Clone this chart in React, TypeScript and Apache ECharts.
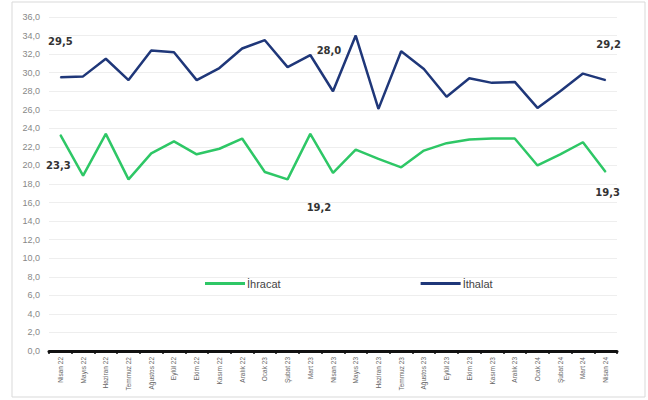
import React, { useEffect, useRef } from "react";
import * as echarts from "echarts";

const categories = [
  "Nisan 22", "Mayıs 22", "Haziran 22", "Temmuz 22", "Ağustos 22", "Eylül 22", "Ekim 22", "Kasım 22", "Aralık 22",
  "Ocak 23", "Şubat 23", "Mart 23", "Nisan 23", "Mayıs 23", "Haziran 23", "Temmuz 23", "Ağustos 23", "Eylül 23",
  "Ekim 23", "Kasım 23", "Aralık 23", "Ocak 24", "Şubat 24", "Mart 24", "Nisan 24",
];
const ihracat = [23.3, 18.9, 23.4, 18.5, 21.3, 22.6, 21.2, 21.8, 22.9, 19.3, 18.5, 23.4, 19.2, 21.7, 20.7, 19.8, 21.6, 22.4, 22.8, 22.9, 22.9, 20.0, 21.2, 22.5, 19.3];
const ithalat = [29.5, 29.6, 31.5, 29.2, 32.4, 32.2, 29.2, 30.5, 32.6, 33.5, 30.6, 31.9, 28.0, 34.0, 26.1, 32.3, 30.4, 27.4, 29.4, 28.9, 29.0, 26.2, 28.0, 29.9, 29.2];
const ihracatLabelled = [0, 12, 24];
const ithalatLabelled = [0, 12, 24];
const yTicks = { min: 0, max: 36, interval: 2 };

const fmt = (v: number) => v.toFixed(1).replace(".", ",");

export default function App() {
  const ref = useRef<HTMLDivElement>(null);
  useEffect(() => {
    if (!ref.current) return;
    const chart = echarts.init(ref.current, null, { renderer: "svg" });
    const labelStyle = { fontSize: 10, fontWeight: "bold" as const, color: "#333", fontFamily: "DejaVu Sans" };
    const mk = (vals: number[], labelled: number[], offsets: Record<number, [number, number]>) =>
      vals.map((v, i) =>
        labelled.includes(i)
          ? { value: v, label: { show: true, position: "inside", offset: offsets[i], formatter: () => fmt(v), ...labelStyle } }
          : v
      );
    chart.setOption({
      animation: false,
      grid: { left: 49, right: 31, top: 17, bottom: 49, containLabel: false },
      legend: {
        data: ["İhracat", "İthalat"],
        top: 273,
        left: 200,
        itemGap: 140,
        itemWidth: 40,
        itemHeight: 3,
        icon: "rect",
        textStyle: { fontSize: 11, color: "#444", fontFamily: "Liberation Sans", padding: [0, 0, 0, -3] },
      },
      xAxis: {
        type: "category",
        data: categories,
        boundaryGap: true,
        axisLine: { lineStyle: { color: "#111", width: 3 } },
        axisTick: { show: true, length: 3, lineStyle: { color: "#111", width: 1.5 } },
        axisLabel: { rotate: 90, fontSize: 6.5, color: "#666", margin: 6, interval: 0, fontFamily: "Liberation Sans" },
      },
      yAxis: {
        type: "value",
        min: yTicks.min,
        max: yTicks.max,
        interval: yTicks.interval,
        axisLine: { show: false },
        axisTick: { show: false },
        splitLine: { lineStyle: { color: "#eeeeee", width: 1 } },
        axisLabel: { fontSize: 9, color: "#888", formatter: (v: number) => fmt(v), margin: 9, fontFamily: "Liberation Sans" },
      },
      series: [
        {
          name: "İhracat",
          type: "line",
          data: mk(ihracat, ihracatLabelled, { 0: [-2, 31], 12: [-14, 35], 24: [2, 21] }),
          symbol: "circle",
          symbolSize: 1,
          showSymbol: true,
          lineStyle: { color: "#2ec766", width: 2.5 },
          itemStyle: { color: "#2ec766" },
        },
        {
          name: "İthalat",
          type: "line",
          data: mk(ithalat, ithalatLabelled, { 0: [0, -36], 12: [-4, -41], 24: [3, -36] }),
          symbol: "circle",
          symbolSize: 1,
          showSymbol: true,
          lineStyle: { color: "#1f3779", width: 2.5 },
          itemStyle: { color: "#1f3779" },
        },
      ],
      graphic: [
        {
          type: "rect",
          shape: { x: 12, y: 2, width: 633, height: 395 },
          style: { fill: "none", stroke: "#d9d9d9", lineWidth: 1 },
          silent: true,
        },
      ],
    });
    return () => chart.dispose();
  }, []);
  return <div ref={ref} style={{ position: "fixed", left: 0, top: 0, width: 648, height: 400, background: "#fff" }} />;
}
